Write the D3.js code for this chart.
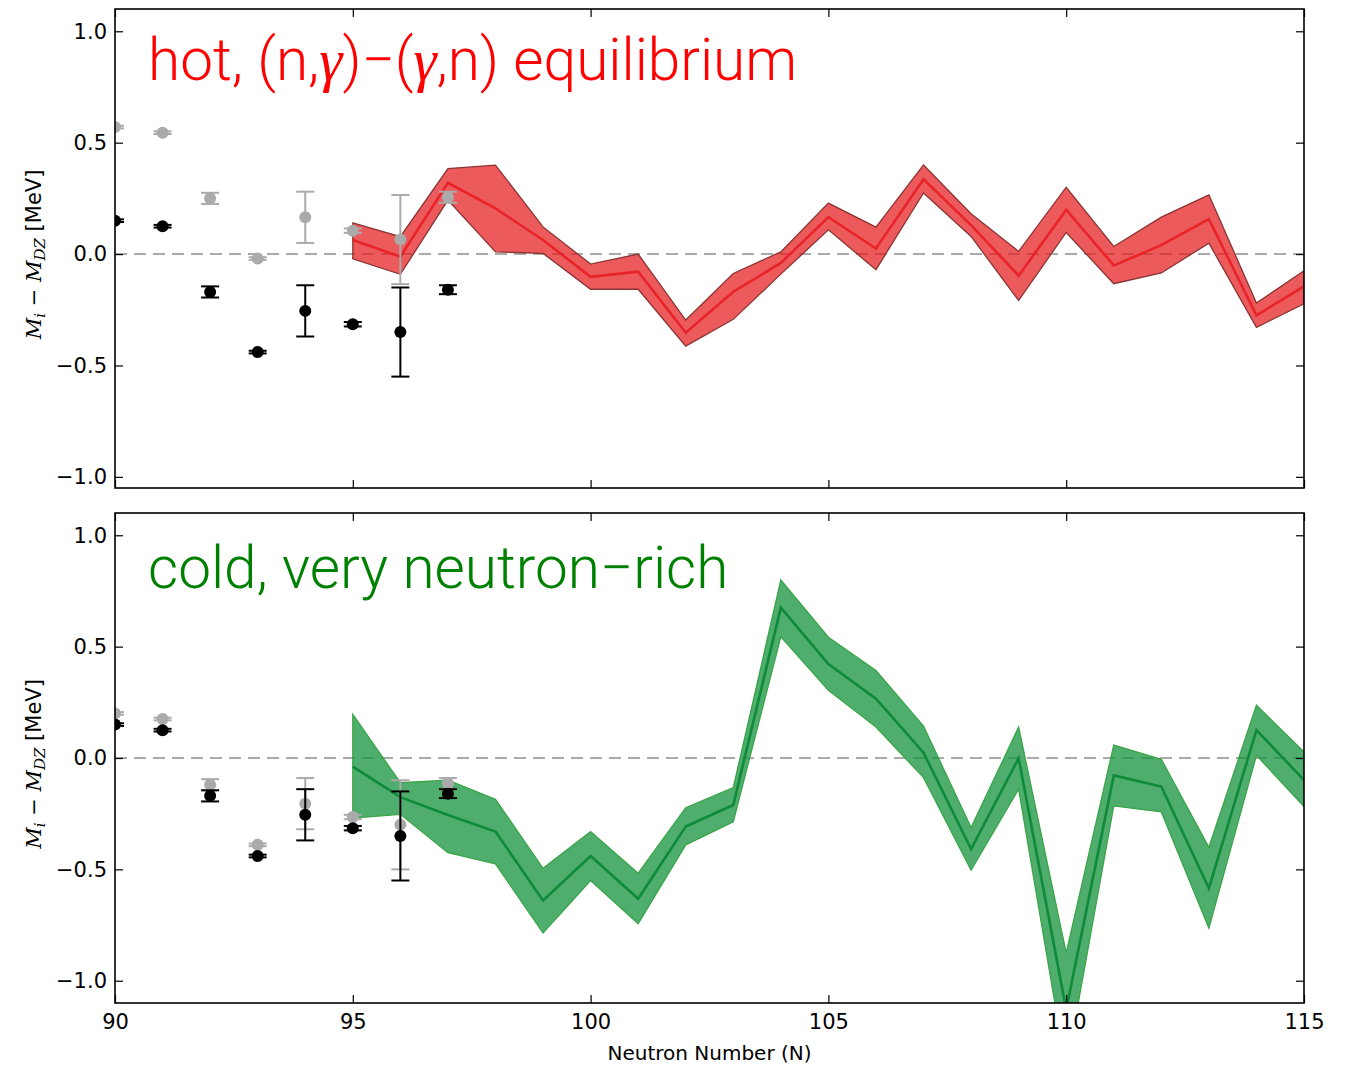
<!DOCTYPE html>
<html>
<head>
<meta charset="utf-8">
<script src="https://cdn.jsdelivr.net/npm/d3@7"></script>
<style>
  html, body { margin: 0; padding: 0; background: #fff; }
  svg { display: block; }
</style>
</head>
<body>
<script>
// Measured masses (black) and model masses (grey) for N = 90..97
const expN = [90, 91, 92, 93, 94, 95, 96, 97];
const measured = [0.15, 0.125, -0.17, -0.44, -0.255, -0.315, -0.35, -0.16];
const measuredErr = [0.006, 0.006, 0.025, 0.006, 0.115, 0.01, 0.2, 0.02];
const hotModel = [0.57, 0.545, 0.25, -0.02, 0.165, 0.105, 0.065, 0.255];
const coldModel = [0.2, 0.175, -0.12, -0.39, -0.205, -0.265, -0.30, -0.115];
const modelErr = [0.006, 0.006, 0.025, 0.006, 0.115, 0.01, 0.2, 0.025];

// Reconstructed mass corrections, N = 95..115
const bandN = [95, 96, 97, 98, 99, 100, 101, 102, 103, 104, 105, 106, 107, 108, 109, 110, 111, 112, 113, 114, 115];
const hotMid = [0.063, -0.012, 0.32, 0.205, 0.063, -0.102, -0.079, -0.353, -0.169, -0.04, 0.166, 0.025, 0.336, 0.13, -0.097, 0.199, -0.051, 0.04, 0.157, -0.275, -0.145];
const hotLo = [-0.021, -0.091, 0.242, 0.01, 0.003, -0.158, -0.158, -0.413, -0.293, -0.09, 0.109, -0.07, 0.274, 0.079, -0.208, 0.097, -0.133, -0.085, 0.049, -0.329, -0.223];
const hotHi = [0.14, 0.078, 0.384, 0.399, 0.122, -0.045, 0.0, -0.296, -0.087, 0.01, 0.229, 0.121, 0.40, 0.181, 0.012, 0.30, 0.034, 0.166, 0.266, -0.22, -0.075];
const coldMid = [-0.039, -0.176, -0.256, -0.33, -0.64, -0.44, -0.632, -0.308, -0.211, 0.675, 0.422, 0.266, 0.024, -0.409, -0.001, -1.13, -0.078, -0.128, -0.585, 0.125, -0.099];
const coldLo = [-0.27, -0.253, -0.425, -0.475, -0.786, -0.55, -0.744, -0.39, -0.286, 0.544, 0.304, 0.139, -0.088, -0.503, -0.14, -1.40, -0.215, -0.242, -0.764, 0.012, -0.218];
const coldHi = [0.196, -0.111, -0.099, -0.185, -0.495, -0.33, -0.517, -0.223, -0.133, 0.799, 0.542, 0.393, 0.143, -0.312, 0.139, -0.875, 0.058, -0.006, -0.401, 0.237, 0.027];

const xTicks = [90, 95, 100, 105, 110, 115];
const yTicks = [-1.0, -0.5, 0.0, 0.5, 1.0];

const W = 1345, H = 1066;
const left = 115, right = 1304;

const svg = d3.select("body").append("svg")
  .attr("width", W).attr("height", H)
  .attr("font-family", "'DejaVu Sans', sans-serif");
svg.append("rect").attr("width", W).attr("height", H).attr("fill", "#fff");

const x = d3.scaleLinear().domain([90, 115]).range([left, right]);

const panels = [
  {
    id: "hot", top: 9, bottom: 488, ydom: [-1.05, 1.1],
    title: ["hot, (n,", "γ", ")\u2212(", "γ", ",n) equilibrium"], titleColor: "#ff0000", titleY: 80,
    model: hotModel, lo: hotLo, mid: hotMid, hi: hotHi,
    fill: "#e41a1c", fillOpacity: 0.72, edge: "#8a3434", line: "#e8242a",
    xLabels: false
  },
  {
    id: "cold", top: 513, bottom: 1003, ydom: [-1.1, 1.1],
    title: ["cold, very neutron\u2212rich"], titleColor: "#008000", titleY: 588,
    model: coldModel, lo: coldLo, mid: coldMid, hi: coldHi,
    fill: "#1a9641", fillOpacity: 0.77, edge: "#3aa548", line: "#0e8a3a",
    xLabels: true
  }
];

panels.forEach(p => {
  const y = d3.scaleLinear().domain(p.ydom).range([p.bottom, p.top]);
  const g = svg.append("g");

  const clipId = "clip-" + p.id;
  svg.append("clipPath").attr("id", clipId)
    .append("rect").attr("x", left).attr("y", p.top)
    .attr("width", right - left).attr("height", p.bottom - p.top);

  const plot = g.append("g").attr("clip-path", `url(#${clipId})`);

  // zero reference
  plot.append("line")
    .attr("x1", left).attr("x2", right)
    .attr("y1", y(0)).attr("y2", y(0))
    .attr("stroke", "#aaaaaa").attr("stroke-width", 2)
    .attr("stroke-dasharray", "12,7");

  // uncertainty band
  const area = d3.area()
    .x((d, i) => x(bandN[i]))
    .y0((d, i) => y(p.lo[i]))
    .y1((d, i) => y(p.hi[i]));
  plot.append("path").datum(p.mid)
    .attr("d", area)
    .attr("fill", p.fill).attr("fill-opacity", p.fillOpacity)
    .attr("stroke", p.edge).attr("stroke-width", 1.3)
    .attr("stroke-linejoin", "miter");

  const line = d3.line().x((d, i) => x(bandN[i])).y(d => y(d));
  plot.append("path").datum(p.mid)
    .attr("d", line)
    .attr("fill", "none").attr("stroke", p.line)
    .attr("stroke-width", 2.6).attr("stroke-linejoin", "miter");

  // error-bar points
  function errPoints(vals, errs, color) {
    const pts = plot.append("g");
    vals.forEach((v, i) => {
      const cx = x(expN[i]);
      const g1 = pts.append("g");
      g1.append("line")
        .attr("x1", cx).attr("x2", cx)
        .attr("y1", y(v - errs[i])).attr("y2", y(v + errs[i]))
        .attr("stroke", color).attr("stroke-width", 2);
      [v - errs[i], v + errs[i]].forEach(e => {
        g1.append("line")
          .attr("x1", cx - 9).attr("x2", cx + 9)
          .attr("y1", y(e)).attr("y2", y(e))
          .attr("stroke", color).attr("stroke-width", 2);
      });
      g1.append("circle").attr("cx", cx).attr("cy", y(v)).attr("r", 6).attr("fill", color);
    });
  }
  errPoints(p.model, modelErr, "#aaaaaa");
  errPoints(measured, measuredErr, "#000000");

  // title
  const t = g.append("text")
    .attr("x", 148).attr("y", p.titleY)
    .attr("fill", p.titleColor)
    .attr("font-family", "Roboto, 'Liberation Sans', sans-serif")
    .attr("font-weight", 300)
    .attr("font-size", 58.5);
  p.title.forEach(s => {
    const ts = t.append("tspan").text(s);
    if (s === "γ") ts.attr("font-family", "'Liberation Serif', serif").attr("font-style", "italic");
  });

  // axes: inward ticks on all four sides
  const ax = g.append("g");
  ax.append("g").attr("transform", `translate(${left},0)`)
    .call(d3.axisLeft(y).tickValues(yTicks).tickSize(-8).tickPadding(8).tickFormat(d3.format(".1f")));
  ax.append("g").attr("transform", `translate(${right},0)`)
    .call(d3.axisRight(y).tickValues(yTicks).tickSize(-8).tickFormat(""));
  ax.append("g").attr("transform", `translate(0,${p.top})`)
    .call(d3.axisTop(x).tickValues(xTicks).tickSize(-8).tickFormat(""));
  ax.append("g").attr("transform", `translate(0,${p.bottom})`)
    .call(d3.axisBottom(x).tickValues(xTicks).tickSize(-8).tickPadding(11)
      .tickFormat(p.xLabels ? d3.format("d") : ""));
  ax.selectAll(".domain").remove();
  ax.selectAll("g").attr("font-size", 21).attr("font-family", "'DejaVu Sans', sans-serif");
  ax.selectAll(".tick line").attr("stroke", "#000").attr("stroke-width", 1.2);
  ax.selectAll(".tick text").attr("fill", "#000");

  // frame
  g.append("rect")
    .attr("x", left).attr("y", p.top)
    .attr("width", right - left).attr("height", p.bottom - p.top)
    .attr("fill", "none").attr("stroke", "#000").attr("stroke-width", 1.6);

  // y-axis label
  const cy = (p.top + p.bottom) / 2 + 6;
  const lab = g.append("text")
    .attr("transform", `translate(41,${cy}) rotate(-90)`)
    .attr("text-anchor", "middle")
    .attr("font-size", 21).attr("fill", "#000");
  const serif = "'DejaVu Serif', serif";
  lab.append("tspan").attr("font-family", serif).attr("font-style", "italic").text("M");
  lab.append("tspan").attr("font-family", serif).attr("font-style", "italic").attr("font-size", 15).attr("dy", 4).text("i");
  lab.append("tspan").attr("font-family", serif).attr("dy", -4).text(" \u2212 ");
  lab.append("tspan").attr("font-family", serif).attr("font-style", "italic").text("M");
  lab.append("tspan").attr("font-family", serif).attr("font-style", "italic").attr("font-size", 15).attr("dy", 4).text("DZ");
  lab.append("tspan").attr("font-family", "'DejaVu Sans', sans-serif").attr("dy", -4).text(" [MeV]");
});

// x-axis label
svg.append("text")
  .attr("x", (left + right) / 2).attr("y", 1060)
  .attr("text-anchor", "middle")
  .attr("font-size", 20)
  .attr("font-family", "'DejaVu Sans', sans-serif")
  .text("Neutron Number (N)");
</script>
</body>
</html>
